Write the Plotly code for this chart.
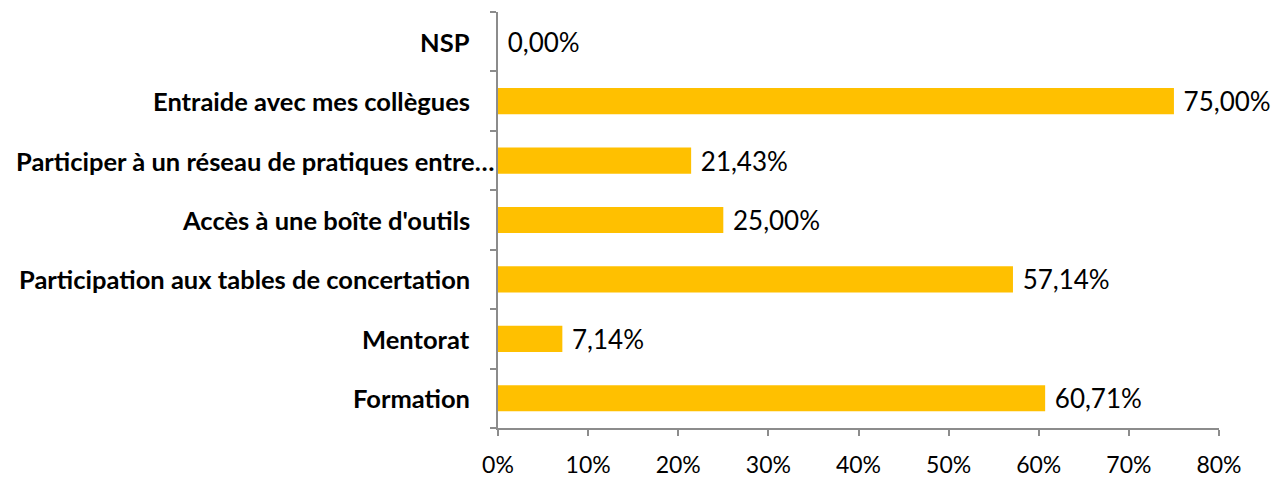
import plotly.graph_objects as go

categories = [
    "Formation",
    "Mentorat",
    "Participation aux tables de concertation",
    "Accès à une boîte d'outils",
    "Participer à un réseau de pratiques entre…",
    "Entraide avec mes collègues",
    "NSP",
]
values = [60.71, 7.14, 57.14, 25.00, 21.43, 75.00, 0.00]
tick_values = [0, 10, 20, 30, 40, 50, 60, 70, 80]
tick_labels = [f"{t}%" for t in tick_values]

# French decimal comma, with a small lead space so labels sit clear of the bar ends
labels = [" " + f"{v:.2f}".replace(".", ",") + "%" for v in values]

fig = go.Figure(
    go.Bar(
        x=values,
        y=categories,
        orientation="h",
        marker=dict(color="#FFC000", line=dict(width=0)),
        text=labels,
        textposition="outside",
        constraintext="none",
        textfont=dict(family="Lato", size=26, color="#000000"),
        cliponaxis=False,
        hoverinfo="skip",
    )
)

# Category labels as right-aligned annotations; the truncated one runs up to the axis
for cat in categories:
    truncated = cat.endswith("…")
    fig.add_annotation(
        x=0,
        y=cat,
        xref="x",
        yref="y",
        text=cat,
        showarrow=False,
        xanchor="right",
        yanchor="middle",
        xshift=-2 if truncated else -26,
        font=dict(family="Lato", size=25.5, color="#000000", weight="bold"),
    )

fig.update_layout(
    width=1284,
    height=479,
    margin=dict(l=498, r=65, t=12, b=51),
    paper_bgcolor="white",
    plot_bgcolor="white",
    bargap=0.56,
    showlegend=False,
    xaxis=dict(
        range=[0, 80],
        tickvals=tick_values,
        ticktext=tick_labels,
        ticks="outside",
        ticklen=6,
        tickwidth=2,
        tickcolor="#8C8C8C",
        showline=True,
        linecolor="#8C8C8C",
        linewidth=2,
        showgrid=False,
        zeroline=False,
        automargin=False,
        ticklabelstandoff=9,
        tickfont=dict(family="Lato", size=23, color="#000000"),
    ),
    yaxis=dict(
        categoryorder="array",
        categoryarray=categories,
        ticks="outside",
        tickson="boundaries",
        ticklen=6,
        tickwidth=2,
        tickcolor="#8C8C8C",
        showline=True,
        linecolor="#8C8C8C",
        linewidth=2,
        showgrid=False,
        zeroline=False,
        automargin=False,
        showticklabels=False,
    ),
)

fig.write_html("out.html")
